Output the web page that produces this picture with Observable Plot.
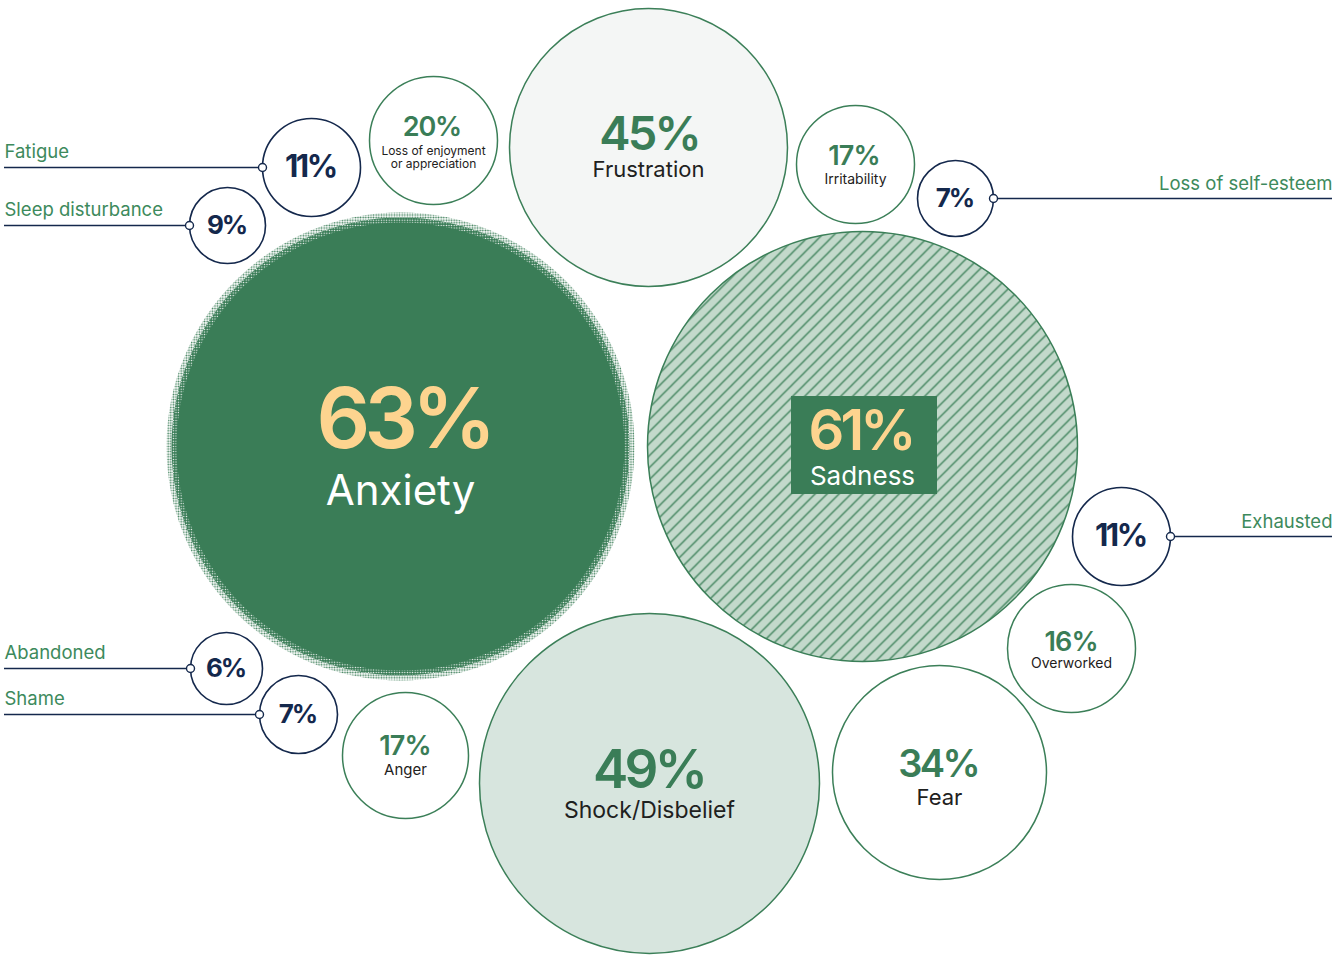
<!DOCTYPE html>
<html>
<head>
<meta charset="utf-8">
<script src="https://cdn.jsdelivr.net/npm/d3@7"></script>
<script src="https://cdn.jsdelivr.net/npm/@observablehq/plot@0.6"></script>
<style>
  html, body { margin: 0; padding: 0; background: #ffffff; }
  #chart { width: 1335px; height: 962px; }
  svg { display: block; }
</style>
</head>
<body>
<svg width="0" height="0" style="position:absolute">
  <defs>
    <pattern id="hatch" patternUnits="userSpaceOnUse" width="12" height="12">
      <rect width="12" height="12" fill="#c3d9cb"></rect>
      <path d="M-3,3 l6,-6 M0,12 l12,-12 M9,15 l6,-6" stroke="#3b7f58" stroke-width="1.3"></path>
    </pattern>
    <pattern id="dotsOuter" patternUnits="userSpaceOnUse" width="2.6" height="2.6">
      <circle cx="1.3" cy="1.3" r="0.9" fill="#3a7d57"></circle>
    </pattern>
    <pattern id="dotsInner" patternUnits="userSpaceOnUse" width="2.6" height="2.6">
      <rect width="2.6" height="2.6" fill="#3a7d57"></rect>
      <circle cx="1.3" cy="1.3" r="0.7" fill="#ffffff"></circle>
    </pattern>
  </defs>
</svg>
<div id="chart"></div>
<script>
// ---------- data ----------
const emotions = ["Anxiety", "Sadness", "Shock/Disbelief", "Frustration", "Fear",
  "Loss of enjoyment\nor appreciation", "Irritability", "Anger", "Overworked"];
const emotionPct = [63, 61, 49, 45, 34, 20, 17, 17, 16];

const feelings = ["Fatigue", "Sleep disturbance", "Loss of self-esteem", "Exhausted", "Abandoned", "Shame"];
const feelingPct = [11, 9, 7, 11, 6, 7];

// ---------- layout (hand-placed bubble layout, in pixels) ----------
const emoCx = [400, 862, 649, 648, 939, 433, 855, 405, 1071];
const emoCy = [446, 446, 783, 147, 772, 140, 164, 755, 648];
const emoR  = [234, 215, 170, 139, 107, 64, 59, 63, 64];
const emoPctX = [406, 862, 650, 650, 939, 432, 854, 405, 1071];
const emoPctY = [421, 432, 771, 134, 764, 127, 156, 746, 642];
const emoLabY = [490, 476, 810, 169, 797, 157, 179, 769, 663];
const emoPctSize = [84, 56, 53, 47, 38, 27, 27, 27, 27];
const emoPctTrack = [-0.07, -0.07, -0.07, -0.06, -0.07, -0.045, -0.03, -0.03, -0.03];
const emoLabSize = [42, 26, 23, 22, 22, 12, 14, 15, 14];
const emoFill = ["none", "url(#hatch)", "#d7e5de", "#f4f6f5", "#ffffff", "#ffffff", "#ffffff", "#ffffff", "#ffffff"];
const emoPctColor = ["#fdd48f", "#fdd48f", "#3a7d57", "#3a7d57", "#3a7d57", "#3a7d57", "#3a7d57", "#3a7d57", "#3a7d57"];
const emoLabColor = ["#ffffff", "#ffffff", "#1e2120", "#1e2120", "#1e2120", "#1e2120", "#1e2120", "#1e2120", "#1e2120"];

const feelCx = [311, 227, 955, 1121, 226, 298];
const feelCy = [167, 225, 198, 536, 668, 714];
const feelR  = [49, 38, 38, 49, 36, 39];
const feelSide = ["left", "left", "right", "right", "left", "left"];

const W = 1335, H = 962;
const green = "#3a7d57", navy = "#14284c";

const emo = emotions.map((name, i) => ({
  name, pct: emotionPct[i], cx: emoCx[i], cy: emoCy[i], r: emoR[i], px: emoPctX[i],
  py: emoPctY[i], ly: emoLabY[i], ps: emoPctSize[i], ls: emoLabSize[i], tr: emoPctTrack[i],
  fill: emoFill[i], pc: emoPctColor[i], lc: emoLabColor[i]
}));
const feel = feelings.map((name, i) => ({
  name, pct: feelingPct[i], cx: feelCx[i], cy: feelCy[i], r: feelR[i], side: feelSide[i],
  edge: feelSide[i] === "left" ? feelCx[i] - feelR[i] : feelCx[i] + feelR[i],
  end: feelSide[i] === "left" ? 4 : 1332
}));

const anxiety = emo.filter(d => d.name === "Anxiety");
const others = emo.filter(d => d.name !== "Anxiety");
const sadness = emo.filter(d => d.name === "Sadness");

const chart = Plot.plot({
  width: W, height: H,
  margin: 0,
  x: {domain: [0, W], axis: null},
  y: {domain: [0, H], reverse: true, axis: null},
  r: {type: "identity"},
  color: {type: "identity"},
  style: {fontFamily: "Inter, 'Noto Sans', sans-serif", background: "transparent"},
  marks: [
    // Anxiety: halftone edge rings + solid core
    Plot.dot(anxiety, {x: "cx", y: "cy", r: d => d.r, fill: "url(#dotsOuter)", stroke: "none"}),
    Plot.dot(anxiety, {x: "cx", y: "cy", r: d => d.r - 5, fill: "url(#dotsInner)", stroke: "none"}),
    Plot.dot(anxiety, {x: "cx", y: "cy", r: d => d.r - 10, fill: green, stroke: "none"}),
    // other emotion bubbles
    Plot.dot(others, {x: "cx", y: "cy", r: "r", fill: "fill", stroke: "#3b7f58", strokeWidth: 1.5}),
    // sadness label box
    Plot.rect(sadness, {x1: d => d.cx - 71, x2: d => d.cx + 75, y1: d => d.cy - 50, y2: d => d.cy + 48, fill: green}),
    // leader lines
    Plot.ruleY(feel, {y: "cy", x1: "end", x2: "edge", stroke: navy, strokeWidth: 1.3}),
    // feeling bubbles
    Plot.dot(feel, {x: "cx", y: "cy", r: "r", fill: "#ffffff", stroke: navy, strokeWidth: 1.6}),
    Plot.dot(feel, {x: "edge", y: "cy", r: 4, fill: "#ffffff", stroke: navy, strokeWidth: 1.4}),
    // feeling texts
    Plot.text(feel, {x: "cx", y: "cy", text: d => d.pct + "%", fill: navy, fontSize: d => d.r > 45 ? 31 : 26, fontWeight: 700}),
    Plot.text(feel.filter(d => d.side === "left"), {x: "end", y: d => d.cy - 15, text: "name", textAnchor: "start", fill: "#3d8a5c", fontSize: 18.5}),
    Plot.text(feel.filter(d => d.side === "right"), {x: "end", y: d => d.cy - 14, text: "name", textAnchor: "end", fill: "#3d8a5c", fontSize: 18.5}),
    // emotion texts
    Plot.text(emo, {x: "px", y: "py", text: d => d.pct + "%", fill: "pc", fontSize: "ps", fontWeight: 600}),
    Plot.text(emo, {x: "cx", y: "ly", text: "name", fill: "lc", fontSize: "ls", lineHeight: 1.05})
  ]
});
document.getElementById("chart").appendChild(chart);

// tighten the tracking of the percentage numerals (narrow-digit look of the original)
const pctGroups = d3.select(chart).selectAll("g").filter(function () {
  const t = d3.select(this).selectAll(":scope > text");
  return t.size() > 0 && t.nodes().every(n => /%$/.test(n.textContent));
});
pctGroups.selectAll(":scope > text").each(function () {
  const node = this;
  const txt = node.textContent;
  const fs = parseFloat(node.getAttribute("font-size"));
  const item = emo.find(d => d.pct + "%" === txt && Math.abs(fs - d.ps) < 0.01);
  const tr = item ? item.tr : -0.08;
  const px = tr * fs;
  node.style.letterSpacing = px.toFixed(2) + "px";
  node.setAttribute("dx", (px / 2).toFixed(2));
});
</script>
</body>
</html>
